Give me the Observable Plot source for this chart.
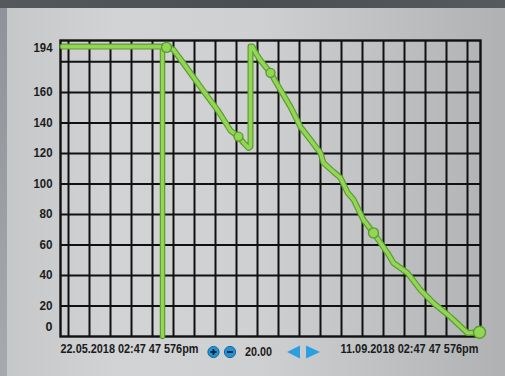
<!DOCTYPE html>
<html><head><meta charset="utf-8">
<script src="https://cdn.jsdelivr.net/npm/d3@7"></script>
<script src="https://cdn.jsdelivr.net/npm/@observablehq/plot@0.6"></script>
<style>
html,body{margin:0;padding:0;background:#4d5055;}
#wrap{position:relative;width:505px;height:376px;overflow:hidden;background:linear-gradient(to right,#55585d,#4a4d52 50%,#565a5f);}
#strip{position:absolute;left:0;top:8px;width:7px;bottom:0;background:linear-gradient(to bottom,#8f9399,#a6a9ae);}
#panel{position:absolute;left:7px;top:8px;right:0;bottom:0;background:linear-gradient(to right,#c5c7c9 0%,#d2d3d4 22%,#cfd0d1 50%,#c0c1c2 75%,#afb1b3 100%);}
#chart{position:absolute;left:0;top:0;}
</style></head><body>
<div id="wrap"><div id="strip"></div><div id="panel"></div><div id="chart"></div></div>
<script>
// Data (x: position along the time axis, 0..420; y: value)
const traceX = [2,103,106,113,123,140,157,170,178,183,188,190,190,192,195,200,210,220,230,240,250,260,263,273,280,287,293,303,313,327,333,347,360,373,390,407,419];
const traceY = [190,190,189.8,188,179,163.6,148.5,135,131,127,123.6,124.5,190,190,186,181,172.8,161.6,150.5,137.4,128.9,120.3,113.8,107.9,104,94.4,89.8,76.4,67.9,54.8,48.2,41.6,30.5,21.9,12.8,2.3,2.6];
const dropX = [102,102];
const dropY = [190,0];
const blobX = [106,178,210,313,419];
const blobY = [189.5,131,172.8,67.9,2.8];
const blobR = [5,4.5,4.5,5,6];
const gridY = [20,40,60,80,100,120,140,160,180];
const gridX = [8,29,50,71,92,113,134,155,176,197,218,239,260,281,302,323,344,365,386,407];
const yLabels = [20,40,60,80,100,120,140,160];
const topLabel = [194];
const bottomLabel = [0];
const startLabel = "22.05.2018 02:47 47 576pm";
const endLabel = "11.09.2018 02:47 47 576pm";
const zoomLabel = "20.00";

const trace = traceX.map((x,i)=>({x, y: traceY[i]}));
const drop = dropX.map((x,i)=>({x, y: dropY[i]}));
const blobs = blobX.map((x,i)=>({x, y: blobY[i], r: blobR[i]}));

const font = "'Liberation Sans',Arial,sans-serif";
const txt = {fill:"#1b1b1b", fontWeight:"bold", fontSize:12.5};

const chart = Plot.plot({
  width:505, height:376,
  marginLeft:60, marginRight:25, marginTop:40, marginBottom:40,
  x:{domain:[0,420], axis:null},
  y:{domain:[0,194], axis:null},
  r:{type:"identity"},
  style:{background:"transparent", fontFamily:font},
  marks:[
    Plot.ruleY(gridY, {stroke:"#111", strokeWidth:2}),
    Plot.ruleX(gridX, {stroke:"#111", strokeWidth:2}),
    Plot.frame({stroke:"#111", strokeWidth:2.4}),
    Plot.text(yLabels, {y:d=>d, text:d=>String(d), frameAnchor:"left", dx:-8, textAnchor:"end", className:"ylab", ...txt}),
    Plot.text(topLabel, {y:d=>d, text:d=>String(d), frameAnchor:"left", dx:-8, dy:7, textAnchor:"end", className:"ylab", ...txt}),
    Plot.text(bottomLabel, {y:d=>d, text:d=>String(d), frameAnchor:"left", dx:-8, dy:-10, textAnchor:"end", ...txt}),
    Plot.line(drop, {x:"x", y:"y", stroke:"#5e9b2f", strokeWidth:5.5}),
    Plot.line(drop, {x:"x", y:"y", stroke:"#92d656", strokeWidth:3.2}),
    Plot.line(trace, {x:"x", y:"y", stroke:"#5e9b2f", strokeWidth:6, strokeLinejoin:"round", strokeLinecap:"round"}),
    Plot.line(trace, {x:"x", y:"y", stroke:"#92d656", strokeWidth:3.6, strokeLinejoin:"round", strokeLinecap:"round"}),
    Plot.dot(blobs, {x:"x", y:"y", r:"r", fill:"#92d656", stroke:"#5e9b2f", strokeWidth:1.4}),
    Plot.text([startLabel], {text:d=>d, frameAnchor:"bottom-left", dy:16, textAnchor:"start", className:"datelab", ...txt}),
    Plot.text([endLabel], {text:d=>d, frameAnchor:"bottom-right", dx:-2, dy:16, textAnchor:"end", className:"datelab", ...txt})
  ]
});
document.getElementById("chart").appendChild(chart);

const svg = d3.select(chart);
// condensed look of the original lettering
svg.selectAll("g.datelab text").attr("textLength",138).attr("lengthAdjust","spacingAndGlyphs");
svg.selectAll("g.ylab text").each(function(){
  const t = this.textContent;
  d3.select(this).attr("textLength", t.length===3 ? 19 : 13).attr("lengthAdjust","spacingAndGlyphs");
});

// UI controls under the chart
const g = svg.append("g").attr("text-anchor","start");
const cy = 352;
[[213.5,"+"],[230,"-"]].forEach(([cx,s])=>{
  g.append("circle").attr("cx",cx).attr("cy",cy).attr("r",5.6).attr("fill","#1f93d6").attr("stroke","#17669a").attr("stroke-width",1);
  g.append("line").attr("x1",cx-3).attr("x2",cx+3).attr("y1",cy).attr("y2",cy).attr("stroke","#102030").attr("stroke-width",1.8);
  if (s==="+") g.append("line").attr("x1",cx).attr("x2",cx).attr("y1",cy-3).attr("y2",cy+3).attr("stroke","#102030").attr("stroke-width",1.8);
});
g.append("text").attr("x",245).attr("y",cy).attr("dy","0.35em").attr("text-anchor","start").attr("font-family",font).attr("font-weight","bold").attr("font-size",12.5).attr("fill","#1b1b1b").attr("textLength",27).attr("lengthAdjust","spacingAndGlyphs").text(zoomLabel);
g.append("path").attr("d",`M287,${cy} L300,${cy-6.5} L300,${cy+6.5} Z`).attr("fill","#2b9fe2");
g.append("path").attr("d",`M306,${cy-6.5} L320,${cy} L306,${cy+6.5} Z`).attr("fill","#2b9fe2");
</script>
</body></html>
